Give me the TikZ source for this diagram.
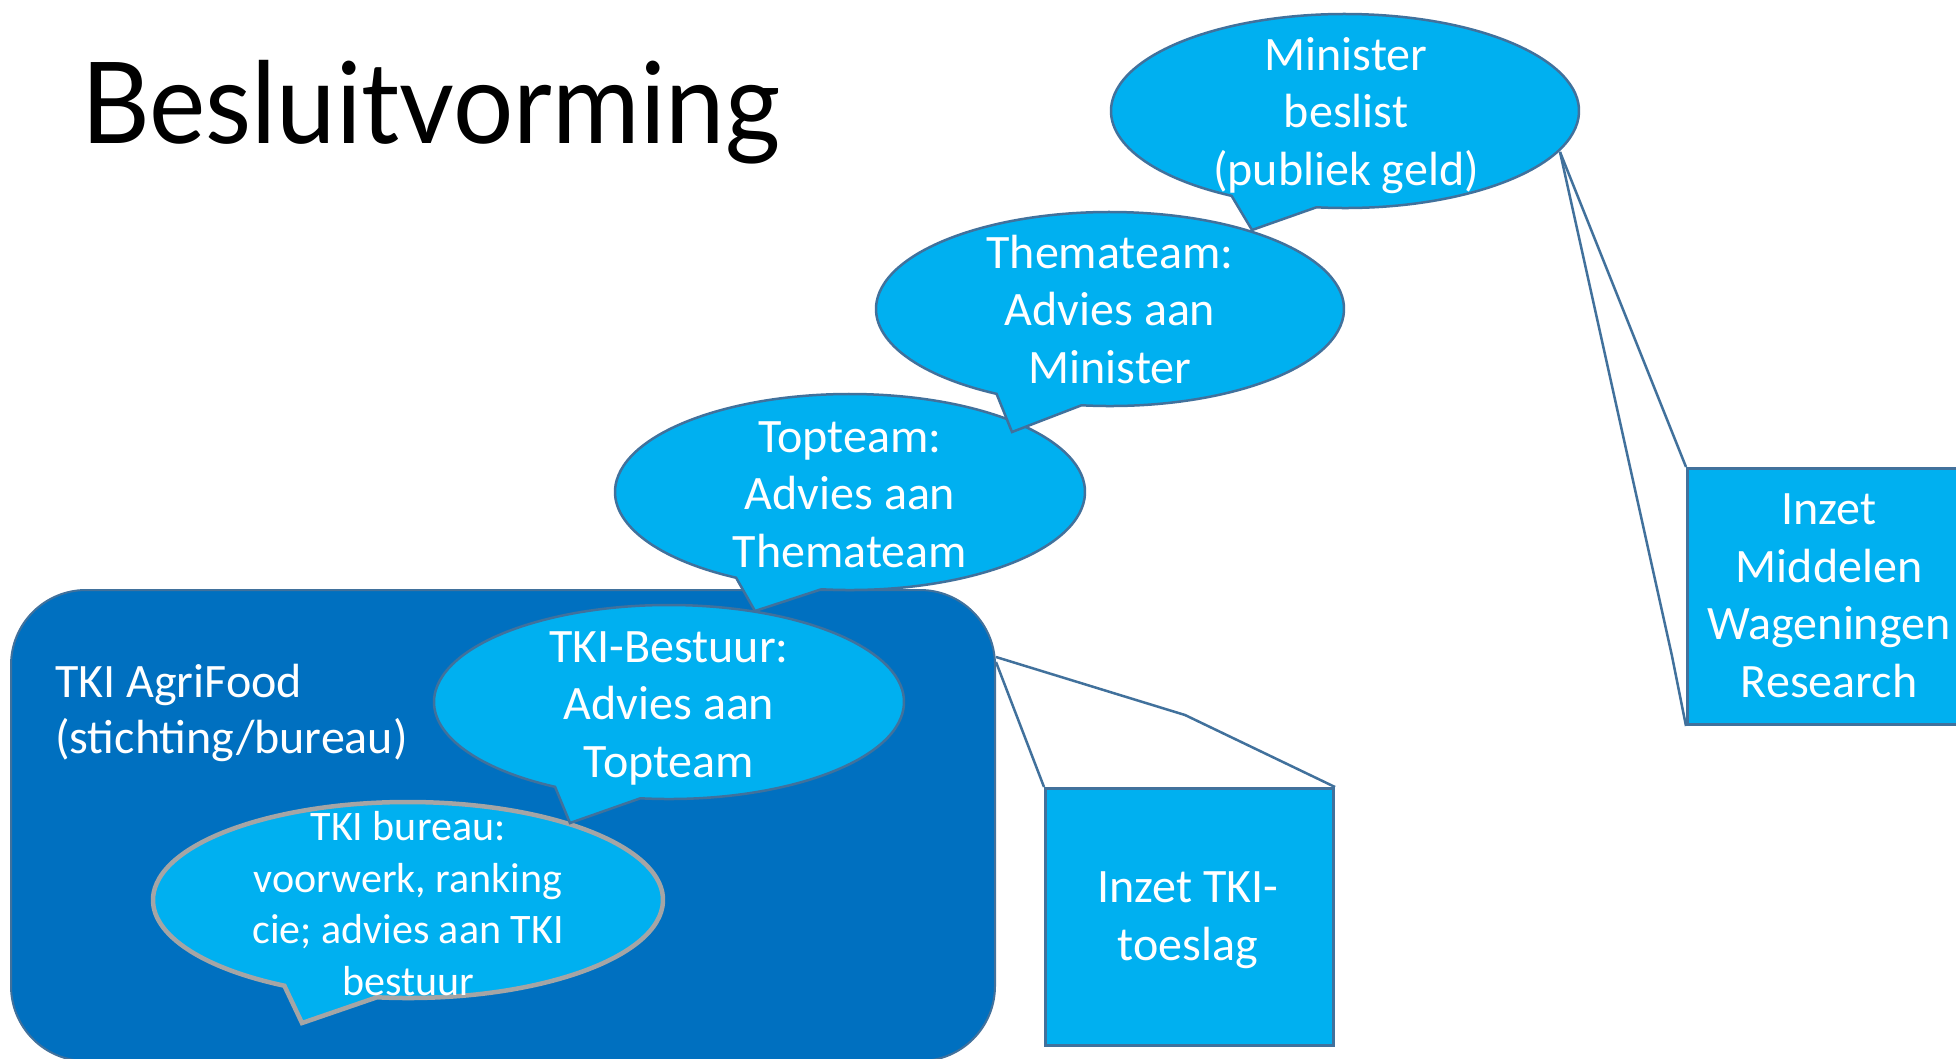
\documentclass[tikz,border=0pt]{standalone}
\usepackage{fontspec}
\usepackage{graphicx}
\setmainfont{Carlito}
\newfontfamily\titlefont{Lato}
\usetikzlibrary{calc}
\definecolor{lblue}{HTML}{00B0F0}
\definecolor{dblue}{HTML}{0070C0}
\definecolor{edgec}{HTML}{41719C}
\definecolor{bgray}{HTML}{A5A5A5}
\tikzset{
  bubble/.style={fill=lblue, draw=edgec, line width=2.5pt, line join=miter},
  graybubble/.style={fill=lblue, draw=bgray, line width=4.5pt, line join=miter},
  bubtext/.style={text=white, align=center, inner sep=0pt, anchor=base, font=\fontsize{48}{57.5}\selectfont},
  smalltext/.style={text=white, align=center, inner sep=0pt, anchor=base, font=\fontsize{42}{51.5}\selectfont},
  boxshape/.style={rectangle, fill=lblue, draw=edgec, line width=3pt, inner sep=0pt, anchor=north west},
  conn/.style={draw=edgec, line width=2.5pt},
}
% #1 style, #2 cx, #3 cy, #4 rx, #5 ry, #6 tA, #7 tB, #8 end angle (tA-360), #9 tip (relative)
\newcommand\speechbub[9]{%
  \path[#1, shift={(#2,#3)}] (#6:#4 and #5) -- #9 -- (#7:#4 and #5)
    arc[start angle=#7, end angle=#8, x radius=#4, y radius=#5] -- cycle;}
\begin{document}
\begin{tikzpicture}[x=1pt,y=-1pt]
\useasboundingbox (0,0) rectangle (1956,1058);
\clip (0,0) rectangle (1956,1058);
\fill[white] (0,0) rectangle (1956,1058);

% title
\node[anchor=base west, inner sep=0pt, font=\titlefont\fontsize{113}{113}\selectfont] (title) at (81,143) {\resizebox{699pt}{\height}{Besluitvorming}};

% TKI AgriFood container
\node[rectangle, rounded corners=75pt, fill=dblue, draw=edgec, line width=2pt, minimum width=984pt, minimum height=471pt, anchor=north west, inner sep=0pt] (tki) at (10,589) {};
\node[text=white, align=left, inner sep=0pt, anchor=base west, font=\fontsize{48}{56}\selectfont] (tkilabel) at (55,753) {TKI AgriFood\\(stichting/bureau)};

% TKI bureau bubble
\speechbub{graybubble}{408}{900}{255}{98}{119}{97}{-241}{(-106,123)}
\node[smalltext] (bureau) at (408,995) {TKI bureau:\\voorwerk, ranking\\cie; advies aan TKI\\bestuur};

% TKI-Bestuur bubble
\speechbub{bubble}{669}{702}{235}{97}{119}{97}{-241}{(-99,121)}
\node[bubtext] (bestuur) at (669,777) {TKI-Bestuur:\\Advies aan\\Topteam};

% Topteam bubble
\speechbub{bubble}{850}{492}{235}{98}{119}{97}{-241}{(-95,119)}
\node[bubtext] (topteam) at (850,567) {Topteam:\\Advies aan\\Themateam};

% Themateam bubble
\speechbub{bubble}{1110}{309}{234}{97}{119}{97}{-241}{(-98,123)}
\node[bubtext] (thema) at (1110,383) {Themateam:\\Advies aan\\Minister};

% Minister bubble
\speechbub{bubble}{1345}{111}{234}{97}{119}{97}{-241}{(-93,119)}
\node[bubtext] (minister) at (1346,185) {Minister\\beslist\\(publiek geld)};

% Inzet TKI-toeslag box
\node[boxshape, minimum width=288pt, minimum height=257pt] (tkibox) at (1044,787) {};
\node[bubtext] (tkiboxtext) at (1188,960) {Inzet TKI-\\toeslag};

% Inzet Middelen Wageningen Research box
\node[boxshape, minimum width=286pt, minimum height=256pt] (wur) at (1686,467) {};
\node[bubtext] (wurtext) at (1829,697) {Inzet\\Middelen\\Wageningen\\Research};

% callout connectors
\coordinate (tkiA) at ($(tki.north east)+(0,68)$);
\coordinate (tkiB) at ($(tki.north east)+(0,73)$);
\coordinate (tkiBend) at (1185,715);
\draw[conn] (tkiA) -- (tkiBend) -- (tkibox.north east);
\draw[conn] (tkiB) -- (tkibox.north west);

\coordinate (minC) at (1560,152);
\coordinate (minBend) at (1672,656);
\draw[conn] (minC) -- (wur.north west);
\draw[conn] (minC) -- (minBend) -- (wur.south west);
\end{tikzpicture}
\end{document}
